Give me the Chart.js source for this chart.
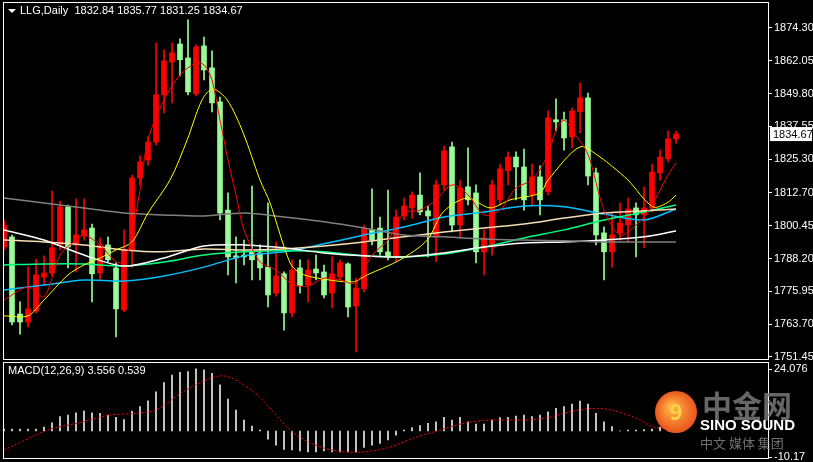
<!DOCTYPE html>
<html><head><meta charset="utf-8">
<script src="https://cdn.jsdelivr.net/npm/chart.js@4/dist/chart.umd.min.js"></script>
<style>
html,body{margin:0;padding:0;background:#000;width:813px;height:462px;overflow:hidden}
canvas{position:absolute;left:0}
</style></head><body>
<canvas id="c1" width="813" height="360" style="top:0"></canvas>
<canvas id="c2" width="813" height="102" style="top:360px"></canvas>
<script>
const titleText = "LLG,Daily  1832.84 1835.77 1831.25 1834.67";
const macdTitle = "MACD(12,26,9) 3.556 0.539";
const priceTicks = [1874.30,1862.05,1849.80,1837.55,1825.30,1812.70,1800.45,1788.20,1775.95,1763.70,1751.45];
const macdTicks = [24.076,-10.17];
const opens = [1792.5,1796.3,1767.5,1764.5,1768.6,1781.3,1782.8,1793.3,1807.5,1793.3,
1796.7,1799.6,1782.8,1793.3,1784.7,1769.0,1791.4,1818.3,1825.0,1831.7,
1849.3,1861.6,1868.3,1863.1,1849.7,1867.6,1859.4,1846.7,1806.3,1789.2,
1789.5,1790.7,1790.3,1785.0,1775.3,1782.5,1767.9,1784.7,1778.3,1784.3,
1783.2,1775.3,1781.3,1786.2,1770.5,1776.9,1798.9,1799.6,1790.7,1788.8,
1804.1,1807.1,1811.9,1806.0,1796.3,1815.7,1829.9,1800.7,1815.0,1812.7,
1790.7,1792.5,1810.1,1821.0,1826.1,1822.4,1812.0,1818.7,1813.1,1840.0,
1840.0,1833.6,1843.0,1848.2,1820.2,1797.8,1790.7,1797.8,1800.7,1807.1,
1804.5,1807.1,1820.2,1825.4,1832.84];
const closes = [1800.7,1764.5,1764.5,1769.4,1782.1,1782.8,1792.2,1807.5,1792.5,1797.0,
1798.9,1782.5,1793.3,1787.7,1769.4,1791.4,1818.3,1824.3,1831.7,1849.3,
1862.0,1865.0,1862.4,1850.4,1867.2,1858.6,1846.3,1805.2,1788.8,1788.4,
1788.8,1787.7,1784.7,1774.6,1781.7,1767.9,1783.9,1778.0,1783.9,1782.8,
1774.6,1782.5,1786.6,1770.1,1777.2,1799.3,1795.1,1790.7,1788.8,1803.7,
1807.8,1811.9,1805.6,1804.1,1815.7,1828.4,1800.7,1814.6,1810.1,1790.7,
1795.9,1815.7,1821.7,1826.1,1822.4,1810.1,1818.7,1810.1,1840.7,1839.2,
1833.2,1843.3,1848.2,1819.0,1797.0,1790.7,1797.0,1801.5,1806.7,1804.5,
1807.1,1820.5,1826.1,1832.9,1834.67];
const highs = [1802.6,1797.0,1772.0,1785.0,1788.0,1789.2,1813.4,1809.7,1808.2,1810.5,
1810.5,1801.1,1795.9,1796.3,1786.6,1798.9,1819.4,1826.5,1833.6,1868.7,
1866.1,1868.7,1870.2,1877.3,1868.0,1870.9,1865.7,1848.5,1812.7,1796.3,
1795.1,1815.3,1793.3,1809.0,1794.4,1783.2,1787.7,1787.7,1787.7,1789.5,
1785.8,1788.8,1787.7,1786.6,1780.9,1800.7,1814.2,1803.7,1813.8,1806.3,
1810.8,1813.1,1820.2,1807.8,1817.5,1830.2,1831.7,1817.5,1829.5,1815.7,
1798.9,1817.5,1823.5,1828.0,1828.0,1829.1,1823.5,1822.8,1843.3,1847.8,
1842.9,1844.4,1853.8,1850.0,1822.0,1800.0,1805.2,1809.0,1810.8,1809.0,
1815.0,1823.5,1828.7,1835.8,1835.77];
const lows = [1791.4,1763.4,1760.0,1762.7,1767.9,1778.3,1781.7,1791.4,1784.7,1783.2,
1795.1,1772.0,1780.2,1786.9,1758.9,1768.3,1785.0,1815.7,1823.1,1830.6,
1842.6,1846.3,1856.4,1849.3,1848.9,1854.9,1842.9,1802.6,1782.1,1779.1,
1785.8,1780.2,1780.2,1770.1,1774.2,1761.5,1766.4,1775.3,1772.0,1780.2,
1773.5,1769.8,1780.2,1766.4,1753.3,1775.7,1793.3,1789.5,1787.7,1786.9,
1802.6,1803.3,1804.5,1788.8,1787.0,1813.8,1798.1,1796.3,1808.2,1786.6,
1782.1,1789.5,1808.2,1815.7,1810.1,1806.3,1808.2,1804.5,1812.0,1835.8,
1828.7,1829.5,1835.1,1815.7,1793.3,1780.2,1785.0,1795.1,1794.4,1788.8,
1792.2,1805.6,1817.5,1824.3,1831.25];
// moving averages: [index, value] pairs
const maRed = [[0,1772.7],[3,1777.6],[5,1773.9],[7,1789.5],[9,1795.1],[10,1797.0],[12,1793.3],[14,1787.0],[15,1787.0],[16,1797.0],[17,1813.8],[18,1832.5],[20,1847.4],[22,1856.7],[24,1861.2],[25,1860.5],[26,1854.9],[27,1839.9],[28,1825.0],[29,1812.0],[30,1798.9],[32,1787.0],[34,1783.9],[36,1778.7],[38,1777.9],[40,1780.9],[42,1780.2],[44,1779.1],[46,1789.5],[48,1795.1],[50,1805.2],[52,1806.3],[54,1810.1],[56,1815.7],[58,1812.0],[60,1804.5],[62,1806.3],[64,1814.6],[66,1817.5],[68,1827.0],[69,1836.2],[70,1839.9],[71,1836.2],[73,1827.0],[75,1806.3],[77,1797.0],[79,1800.7],[81,1808.2],[83,1819.4],[84,1823.9]];
const maYellow = [[0,1766.8],[3,1766.8],[5,1772.7],[8,1782.1],[10,1785.8],[12,1788.4],[14,1791.4],[16,1794.4],[18,1805.2],[20.75,1817.5],[22.9,1832.5],[24.75,1847.4],[26.1,1851.5],[27.9,1847.4],[29.9,1835.1],[32,1817.5],[33.25,1809.0],[35.75,1786.6],[37,1782.8],[39,1781.0],[43.6,1779.5],[45.4,1782.1],[49.5,1787.7],[52.9,1795.1],[54.9,1805.6],[57.9,1810.8],[60.75,1807.1],[63.25,1810.1],[67,1812.7],[68,1817.5],[72,1829.9],[74.5,1826.1],[76.1,1822.4],[78,1817.5],[81.1,1807.5],[82.9,1809.0],[84,1811.9]];
const maIdx = [0,5,10,15,20,25,30,35,40,45,50,55,60,65,70,75,80,84];
const maGray  = [1810.8,1808.9,1807.1,1805.2,1804.5,1804.1,1805.2,1803.7,1801.9,1799.6,1797.0,1796.3,1795.5,1795.1,1794.8,1794.4,1794.4,1794.4];
const maWhite = [1798.9,1795.1,1789.5,1785.4,1788.4,1792.9,1793.3,1792.2,1790.3,1789.2,1788.8,1790.3,1792.5,1794.0,1794.4,1795.1,1796.3,1798.5];
const maWheat = [1795.1,1794.4,1793.3,1791.4,1790.7,1791.8,1791.4,1791.8,1792.9,1794.4,1796.3,1798.1,1799.6,1801.1,1803.3,1805.2,1806.0,1806.7];
const maGreen = [1785.8,1786.2,1786.2,1785.4,1786.9,1789.5,1790.7,1791.1,1790.7,1789.2,1788.8,1789.9,1792.5,1795.9,1798.9,1802.6,1805.6,1808.2];
const maCyan  = [1776.5,1778.3,1780.2,1779.8,1781.7,1785.0,1789.2,1790.7,1793.7,1797.0,1800.0,1803.7,1805.6,1807.8,1807.5,1804.8,1802.6,1806.7];
const macdHist = [0.8,0.8,0.8,0.8,0.8,1.5,3.2,5.6,6.2,7.1,
7.8,7.1,6.9,6.2,5.3,4.5,7.8,9.5,11.8,15.3,
18.9,21.8,22.9,23.2,24.2,23.8,22.5,18.0,12.4,8.2,
4.3,1.9,0.4,-3.2,-5.5,-7.2,-7.4,-7.7,-8.1,-8.1,
-7.7,-8.1,-8.1,-8.1,-8.1,-6.4,-5.5,-4.8,-3.5,-1.6,
0.4,1.3,2.1,3.0,3.6,5.3,4.3,5.3,3.6,2.7,
2.7,4.3,5.2,5.3,5.8,6.2,5.6,6.2,7.5,8.8,
9.5,10.5,11.7,10.5,6.9,3.6,1.7,0.1,0.4,0.4,
0.6,0.8,1.5,2.6,3.556];
const macdSignal = [[0,-7.4],[5.5,0.4],[9.9,3.6],[13.1,6.2],[16.4,6.9],[19,8.2],[22.1,14.7],[24.75,19.2],[27,21.5],[28.6,20.5],[31.9,13.4],[35.75,0.4],[38.4,-4.8],[41,-7.4],[44.25,-8.3],[48.1,-6.4],[51.4,-2.5],[54.5,0.4],[57.75,3.2],[61,4.3],[64.25,4.3],[67.5,4.9],[70.75,7.5],[73.4,8.8],[75.9,8.2],[79.1,4.9],[81.1,1.7],[84,0.539]];

const UP = '#ff0000', DOWN = '#98fb98';
const idx = opens.map((_, i) => i);
const candleColors = idx.map(i => closes[i] >= opens[i] ? UP : DOWN);
const pairs = a => a.map(p => ({x: p[0], y: p[1]}));
const sparse = v => v.map((y, k) => ({x: maIdx[k], y}));
const line = (data, color, w) => ({type: 'line', data, borderColor: color, borderWidth: w || 1, pointRadius: 0, tension: 0.3, order: -1, fill: false});

const frame = {
  id: 'frame',
  afterDraw(chart, args, opts) {
    const {ctx, chartArea: a} = chart;
    ctx.save();
    ctx.strokeStyle = '#fff'; ctx.lineWidth = 1;
    ctx.strokeRect(a.left - 0.5, a.top - 0.5, a.right - a.left + 1, a.bottom - a.top + 1);
    ctx.fillStyle = '#fff'; ctx.font = '11px "Liberation Sans", Arial';
    ctx.textBaseline = 'middle';
    if (opts.title) {
      let x = a.left + 4;
      if (opts.arrow) {
        ctx.beginPath(); ctx.moveTo(x, a.top + 6); ctx.lineTo(x + 8, a.top + 6); ctx.lineTo(x + 4, a.top + 10); ctx.closePath(); ctx.fill();
        x += 12;
      }
      ctx.fillText(opts.title, x, a.top + 8);
    }
    if (opts.price) {
      const y = chart.scales.y.getPixelForValue(opts.price);
      ctx.fillStyle = '#fff';
      ctx.fillRect(a.right + 2, y - 7, 42, 14);
      ctx.fillStyle = '#000';
      ctx.fillText(opts.price.toFixed(2), a.right + 5, y + 0.5);
    }
    if (opts.logo) {
      const cx = 676, cy = 52;
      const g = ctx.createRadialGradient(cx - 5, cy - 5, 2, cx, cy, 22);
      g.addColorStop(0, '#ffb347'); g.addColorStop(1, '#e8501a');
      ctx.fillStyle = g; ctx.beginPath(); ctx.arc(cx, cy, 21, 0, Math.PI * 2); ctx.fill();
      ctx.fillStyle = '#ffd24a'; ctx.font = 'bold 22px "Noto Sans CJK SC"'; ctx.textAlign = 'center';
      ctx.fillText('9', cx, cy);
      ctx.textAlign = 'left';
      ctx.fillStyle = 'rgba(120,120,120,0.85)'; ctx.font = 'bold 30px "Noto Sans CJK SC"';
      ctx.fillText('中金网', 702, 46);
      ctx.fillStyle = '#fff'; ctx.font = 'bold 15px "Liberation Sans"';
      ctx.fillText('SINO SOUND', 700, 66);
      ctx.fillStyle = 'rgba(140,140,140,0.8)'; ctx.font = '13px "Noto Sans CJK SC"';
      ctx.fillText('中文 媒体 集团', 700, 83);
    }
    ctx.restore();
  }
};

const yAxisCommon = (ticks, fmt) => ({
  position: 'right',
  afterFit(s) { s.width = 45; s.paddingTop = 0; s.paddingBottom = 0; },
  afterBuildTicks(s) { s.ticks = ticks.map(v => ({value: v})); },
  ticks: {color: '#fff', font: {size: 11, family: '"Liberation Sans", Arial'}, padding: 2, autoSkip: false, callback: fmt},
  grid: {drawOnChartArea: false, color: '#fff', tickLength: 4},
  border: {color: '#fff'}
});
const xAxis = {type: 'linear', min: 0, max: 95.5, display: false, offset: false, grid: {offset: false}};

new Chart(document.getElementById('c1'), {
  type: 'bar',
  data: {datasets: [
    line(pairs(maRed), '#ff0000'),
    line(pairs(maYellow), '#ffff00'),
    line(sparse(maGray), '#808080', 1.5),
    line(sparse(maWhite), '#ffffff', 1.5),
    line(sparse(maWheat), '#f5deb3', 1.5),
    line(sparse(maGreen), '#00ff7f', 1.5),
    line(sparse(maCyan), '#00bfff', 1.5),
    {data: idx.map(i => ({x: i, y: [opens[i], closes[i]]})), backgroundColor: candleColors, barThickness: 5, minBarLength: 1, grouped: false, order: 0},
    {data: idx.map(i => ({x: i, y: [lows[i], highs[i]]})), backgroundColor: candleColors, barThickness: 1, grouped: false, order: 1}
  ]},
  options: {
    responsive: false, animation: false, devicePixelRatio: 1,
    layout: {padding: {left: 4, top: 3, bottom: 1, right: 0}},
    plugins: {legend: {display: false}, tooltip: {enabled: false},
      frame: {title: titleText, arrow: true, price: closes[closes.length - 1]}},
    scales: {
      x: xAxis,
      y: Object.assign({min: 1750.7, max: 1883.6}, yAxisCommon(priceTicks, v => v.toFixed(2)))
    }
  },
  plugins: [frame]
});

new Chart(document.getElementById('c2'), {
  type: 'bar',
  data: {datasets: [
    {type: 'line', data: pairs(macdSignal), borderColor: '#ff0000', borderWidth: 1, borderDash: [2, 2], pointRadius: 0, tension: 0.3, order: -1},
    {data: idx.map(i => ({x: i, y: macdHist[i]})), backgroundColor: '#e8e8e8', barThickness: 1, order: 0}
  ]},
  options: {
    responsive: false, animation: false, devicePixelRatio: 1,
    layout: {padding: {left: 4, top: 3, bottom: 4, right: 0}},
    plugins: {legend: {display: false}, tooltip: {enabled: false}, frame: {title: macdTitle, logo: true}},
    scales: {
      x: xAxis,
      y: Object.assign({min: -10.5, max: 26.5}, yAxisCommon(macdTicks, v => String(v)))
    }
  },
  plugins: [frame]
});
</script>
</body></html>
